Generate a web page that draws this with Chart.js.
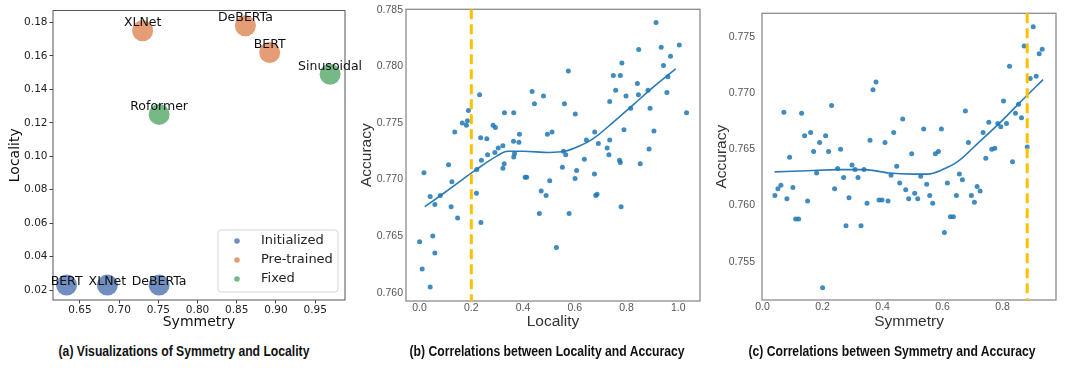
<!DOCTYPE html>
<html>
<head>
<meta charset="utf-8">
<script src="https://cdn.jsdelivr.net/npm/chart.js@4.4.0/dist/chart.umd.min.js"></script>
<style>
  body { margin: 0; background: #fff; width: 1067px; height: 371px; position: relative; overflow: hidden; }
  canvas { position: absolute; top: 0; }
  .cap {
    position: absolute; top: 343px; transform: translateX(-50%) scaleX(0.87);
    font-family: "Liberation Sans Narrow", "Arial Narrow", "Liberation Sans", sans-serif;
    font-weight: bold; font-size: 14px; color: #111; white-space: nowrap;
  }
</style>
</head>
<body>
<canvas id="chartA" width="372" height="335" style="left:0px"></canvas>
<canvas id="chartB" width="360" height="335" style="left:355px"></canvas>
<canvas id="chartC" width="357" height="335" style="left:710px"></canvas>
<div class="cap" style="left:184px">(a) Visualizations of Symmetry and Locality</div>
<div class="cap" style="left:547px">(b) Correlations between Locality and Accuracy</div>
<div class="cap" style="left:892px">(c) Correlations between Symmetry and Accuracy</div>

<script>
// ---- panel (a): symmetry / locality per model ----
const initNames = ['BERT', 'XLNet', 'DeBERTa'];
const initSymmetry = [0.633, 0.685, 0.751];
const initLocality = [0.023, 0.023, 0.023];

const preNames = ['XLNet', 'DeBERTa', 'BERT'];
const preSymmetry = [0.730, 0.861, 0.892];
const preLocality = [0.175, 0.178, 0.162];

const fixedNames = ['Roformer', 'Sinusoidal'];
const fixedSymmetry = [0.751, 0.969];
const fixedLocality = [0.125, 0.149];

const aXTicks = [0.65, 0.70, 0.75, 0.80, 0.85, 0.90, 0.95];
const aYTicks = [0.02, 0.04, 0.06, 0.08, 0.10, 0.12, 0.14, 0.16, 0.18];

// ---- panel (b): locality vs accuracy ----
const bLocality = [0.000,0.017,0.010,0.041,0.041,0.051,0.059,0.059,0.080,0.112,
  0.125,0.122,0.136,0.147,0.165,0.181,0.185,0.189,0.232,0.236,
  0.221,0.220,0.237,0.239,0.260,0.263,0.284,0.293,0.291,0.304,
  0.322,0.322,0.327,0.328,0.363,0.364,0.367,0.364,0.384,0.386,
  0.408,0.414,0.435,0.444,0.470,0.463,0.479,0.489,0.494,0.503,
  0.512,0.529,0.552,0.556,0.565,0.560,0.575,0.578,0.601,0.607,
  0.602,0.637,0.645,0.676,0.677,0.681,0.686,0.691,0.725,0.732,
  0.735,0.735,0.749,0.758,0.773,0.776,0.776,0.782,0.779,0.790,
  0.798,0.816,0.842,0.846,0.847,0.853,0.883,0.887,0.891,0.906,
  0.914,0.934,0.943,0.956,0.960,0.970,1.004,1.032];
const bAccuracy = [0.7645,0.7706,0.7621,0.7605,0.7685,0.7650,0.7635,0.7678,0.7686,0.7713,
  0.7698,0.7676,0.7742,0.7666,0.7750,0.7748,0.7752,0.7761,0.7775,0.7737,
  0.7709,0.7688,0.7662,0.7717,0.7736,0.7722,0.7748,0.7746,0.7724,0.7728,
  0.7730,0.7710,0.7714,0.7759,0.7734,0.7759,0.7723,0.7720,0.7733,0.7740,
  0.7702,0.7702,0.7778,0.7767,0.7690,0.7670,0.7774,0.7686,0.7740,0.7699,
  0.7742,0.7640,0.7711,0.7725,0.7722,0.7767,0.7796,0.7670,0.7701,0.7708,
  0.7758,0.7718,0.7735,0.7705,0.7742,0.7686,0.7687,0.7732,0.7728,0.7722,
  0.7735,0.7769,0.7792,0.7779,0.7717,0.7715,0.7792,0.7803,0.7676,0.7744,
  0.7774,0.7763,0.7785,0.7775,0.7815,0.7714,0.7779,0.7727,0.7763,0.7743,
  0.7839,0.7817,0.7801,0.7777,0.7791,0.7809,0.7819,0.7759];
// smoothed trend
const bTrendX = [0.02, 0.10, 0.22, 0.30, 0.34, 0.40, 0.50, 0.56, 0.62, 0.67, 0.75, 0.83, 0.91, 0.99];
const bTrendY = [0.7676, 0.7689, 0.7709, 0.7721, 0.7725, 0.7725, 0.7724, 0.7725, 0.7730, 0.7736, 0.7751, 0.7767, 0.7783, 0.7798];
const bThreshold = 0.2;
const bXTicks = [0.0, 0.2, 0.4, 0.6, 0.8, 1.0];
const bYTicks = [0.760, 0.765, 0.770, 0.775, 0.780, 0.785];

// ---- panel (c): symmetry vs accuracy ----
const cSymmetry = [0.041,0.051,0.061,0.071,0.081,0.090,0.101,0.110,0.120,0.130,
  0.140,0.150,0.160,0.170,0.180,0.190,0.200,0.210,0.220,0.230,
  0.240,0.250,0.260,0.270,0.278,0.288,0.298,0.308,0.318,0.328,
  0.338,0.348,0.358,0.368,0.378,0.388,0.398,0.408,0.418,0.428,
  0.437,0.447,0.457,0.467,0.477,0.487,0.497,0.507,0.517,0.527,
  0.537,0.547,0.557,0.567,0.576,0.586,0.596,0.606,0.616,0.626,
  0.636,0.646,0.656,0.666,0.676,0.686,0.696,0.706,0.715,0.725,
  0.735,0.744,0.754,0.764,0.774,0.784,0.794,0.803,0.813,0.823,
  0.833,0.843,0.853,0.863,0.872,0.882,0.892,0.902,0.912,0.922,
  0.932];
const cAccuracy = [0.7609,0.7615,0.7618,0.7683,0.7606,0.7643,0.7616,0.7588,0.7588,0.7682,
  0.7662,0.7604,0.7665,0.7648,0.7629,0.7656,0.7527,0.7662,0.7648,0.7689,
  0.7615,0.7633,0.7650,0.7625,0.7582,0.7607,0.7636,0.7632,0.7625,0.7582,
  0.7632,0.7602,0.7658,0.7703,0.7710,0.7605,0.7605,0.7656,0.7604,0.7627,
  0.7665,0.7635,0.7620,0.7677,0.7614,0.7606,0.7646,0.7611,0.7606,0.7626,
  0.7668,0.7619,0.7609,0.7602,0.7646,0.7648,0.7668,0.7576,0.7620,0.7590,
  0.7590,0.7609,0.7628,0.7623,0.7684,0.7656,0.7609,0.7603,0.7617,0.7613,
  0.7665,0.7642,0.7674,0.7650,0.7651,0.7673,0.7670,0.7693,0.7673,0.7724,
  0.7639,0.7682,0.7690,0.7678,0.7742,0.7652,0.7713,0.7759,0.7715,0.7735,
  0.7739];
const cTrendX = [0.04, 0.15, 0.25, 0.34, 0.42, 0.50, 0.55, 0.60, 0.65, 0.72, 0.80, 0.87, 0.935];
const cTrendY = [0.7630, 0.7631, 0.7632, 0.7632, 0.7629, 0.7628, 0.7628, 0.7632, 0.7639, 0.7656, 0.7676, 0.7695, 0.7712];
const cThreshold = 0.882;
const cXTicks = [0.0, 0.2, 0.4, 0.6, 0.8];
const cYTicks = [0.755, 0.760, 0.765, 0.770, 0.775];

// ---- helpers ----
function makePoints(xs, ys) {
  return xs.map((x, i) => ({ x: x, y: ys[i] }));
}

function fixedTicks(values) {
  return function (scale) {
    scale.ticks = values.map(v => ({ value: v }));
  };
}

// box around the plotting area
const framePlugin = {
  id: 'frame',
  beforeDatasetsDraw(chart, args, opts) {
    const { ctx, chartArea: a } = chart;
    ctx.save();
    ctx.strokeStyle = opts.color;
    ctx.lineWidth = opts.width;
    ctx.strokeRect(a.left, a.top, a.right - a.left, a.bottom - a.top);
    ctx.restore();
  }
};

// dashed threshold line
const thresholdPlugin = {
  id: 'threshold',
  afterDatasetsDraw(chart, args, opts) {
    if (opts.value === undefined) return;
    const { ctx, chartArea: a } = chart;
    const x = chart.scales.x.getPixelForValue(opts.value);
    ctx.save();
    ctx.strokeStyle = '#FFC000';
    ctx.lineWidth = 3;
    ctx.setLineDash([10, 5]);
    ctx.beginPath();
    ctx.moveTo(x, a.top);
    ctx.lineTo(x, a.bottom);
    ctx.stroke();
    ctx.restore();
  }
};

// model names above the bubbles + legend box for panel (a)
const namePlugin = {
  id: 'names',
  afterDatasetsDraw(chart) {
    const ctx = chart.ctx;
    ctx.save();
    ctx.font = '12.5px "DejaVu Sans"';
    ctx.fillStyle = '#111';
    ctx.textAlign = 'center';
    ctx.textBaseline = 'alphabetic';
    chart.data.datasets.forEach((ds, di) => {
      const meta = chart.getDatasetMeta(di);
      meta.data.forEach((pt, i) => {
        ctx.fillText(ds.names[i], pt.x, pt.y - ds.lift);
      });
    });

    // legend (lower right)
    const a = chart.chartArea;
    const w = 120, h = 62;
    const left = a.right - 7 - w, top = a.bottom - 8 - h;
    ctx.fillStyle = 'rgba(255,255,255,0.8)';
    ctx.strokeStyle = '#d6d6d6';
    ctx.lineWidth = 1;
    ctx.beginPath();
    ctx.roundRect(left, top, w, h, 3);
    ctx.fill();
    ctx.stroke();
    ctx.font = '13px "DejaVu Sans"';
    ctx.textAlign = 'left';
    ctx.textBaseline = 'middle';
    chart.data.datasets.forEach((ds, di) => {
      const y = top + 11 + di * 19;
      ctx.fillStyle = ds.backgroundColor;
      ctx.beginPath();
      ctx.arc(left + 19, y, 2.8, 0, Math.PI * 2);
      ctx.fill();
      ctx.fillStyle = '#222';
      ctx.fillText(ds.label, left + 43, y);
    });
    ctx.restore();
  }
};

Chart.defaults.devicePixelRatio = 1;
Chart.defaults.animation = false;
Chart.defaults.events = [];
Chart.defaults.plugins.legend.display = false;
Chart.defaults.plugins.tooltip.enabled = false;

// ---- chart (a) ----
const aFont = '"DejaVu Sans"';
new Chart(document.getElementById('chartA'), {
  type: 'scatter',
  data: {
    datasets: [
      { label: 'Initialized', names: initNames, lift: 0,
        data: makePoints(initSymmetry, initLocality),
        backgroundColor: 'rgba(76,114,176,0.8)', pointRadius: 10.5, borderWidth: 0 },
      { label: 'Pre-trained', names: preNames, lift: 5,
        data: makePoints(preSymmetry, preLocality),
        backgroundColor: 'rgba(221,132,82,0.8)', pointRadius: 10.5, borderWidth: 0 },
      { label: 'Fixed', names: fixedNames, lift: 4,
        data: makePoints(fixedSymmetry, fixedLocality),
        backgroundColor: 'rgba(85,168,104,0.8)', pointRadius: 10.5, borderWidth: 0 }
    ]
  },
  options: {
    responsive: false,
    layout: { padding: { top: 8, right: 27, left: 0, bottom: 0 } },
    scales: {
      x: {
        min: 0.6157, max: 0.988,
        afterBuildTicks: fixedTicks(aXTicks),
        afterFit: s => { s.height = 35; },
        grid: { display: true, drawOnChartArea: false, drawTicks: true, tickLength: 3.5, color: '#444' },
        border: { display: false },
        ticks: { autoSkip: false, maxRotation: 0, padding: 1.5, color: '#222',
                 font: { family: aFont, size: 10.5, lineHeight: 1 },
                 callback: v => v.toFixed(2) },
        title: { display: true, text: 'Symmetry', color: '#111',
                 font: { family: aFont, size: 14 }, padding: { top: 0, bottom: 4.6 } }
      },
      y: {
        min: 0.0141, max: 0.1871,
        afterBuildTicks: fixedTicks(aYTicks),
        afterFit: s => { s.width = 53; },
        grid: { display: true, drawOnChartArea: false, drawTicks: true, tickLength: 3.5, color: '#444' },
        border: { display: false },
        ticks: { autoSkip: false, padding: 2, color: '#222',
                 font: { family: aFont, size: 10.5 },
                 callback: v => v.toFixed(2) },
        title: { display: true, text: 'Locality', color: '#111',
                 font: { family: aFont, size: 14 }, padding: { top: 6.6, bottom: 0 } }
      }
    },
    plugins: { frame: { color: '#555', width: 1 } }
  },
  plugins: [framePlugin, namePlugin]
});

// ---- charts (b) and (c) share a look ----
function correlationChart(canvasId, opts) {
  const sans = '"Liberation Sans", Arial, sans-serif';
  return new Chart(document.getElementById(canvasId), {
    type: 'scatter',
    data: {
      datasets: [
        { data: makePoints(opts.xs, opts.ys),
          backgroundColor: 'rgba(31,119,180,0.85)', pointRadius: 2.5, borderWidth: 0 },
        { data: makePoints(opts.trendX, opts.trendY), showLine: true,
          borderColor: '#2a7ab8', borderWidth: 1.6, pointRadius: 0,
          cubicInterpolationMode: 'monotone' }
      ]
    },
    options: {
      responsive: false,
      layout: { padding: { top: 8, right: opts.padRight, left: 0, bottom: 0 } },
      scales: {
        x: {
          min: opts.xMin, max: opts.xMax,
          afterBuildTicks: fixedTicks(opts.xTicks),
          afterFit: s => { s.height = opts.xHeight; },
          grid: { display: false, drawTicks: false },
          border: { display: false },
          ticks: { autoSkip: false, maxRotation: 0, padding: 1.5, color: '#555',
                   font: { family: sans, size: 10.5, lineHeight: 1 },
                   callback: v => v.toFixed(1) },
          title: { display: true, text: opts.xTitle, color: '#333',
                   font: { family: sans, size: 15.5 }, padding: { top: 0, bottom: 4 } }
        },
        y: {
          min: opts.yMin, max: opts.yMax,
          afterBuildTicks: fixedTicks(opts.yTicks),
          afterFit: s => { s.width = opts.yWidth; },
          grid: { display: false, drawTicks: false },
          border: { display: false },
          ticks: { autoSkip: false, padding: opts.yPad, color: '#555',
                   font: { family: sans, size: 10.5 },
                   callback: v => v.toFixed(3) },
          title: { display: true, text: 'Accuracy', color: '#333',
                   font: { family: sans, size: 15.5 }, padding: { top: 2.4, bottom: 0 } }
        }
      },
      plugins: {
        frame: { color: '#8c8c8c', width: 1.3 },
        threshold: { value: opts.threshold }
      }
    },
    plugins: [framePlugin, thresholdPlugin]
  });
}

correlationChart('chartB', {
  xs: bLocality, ys: bAccuracy, trendX: bTrendX, trendY: bTrendY,
  threshold: bThreshold, xTicks: bXTicks, yTicks: bYTicks,
  xMin: -0.0525, xMax: 1.084, yMin: 0.75926, yMax: 0.78506,
  xTitle: 'Locality', padRight: 15, xHeight: 34, yWidth: 51, yPad: 3
});

correlationChart('chartC', {
  xs: cSymmetry, ys: cAccuracy, trendX: cTrendX, trendY: cTrendY,
  threshold: cThreshold, xTicks: cXTicks, yTicks: cYTicks,
  xMin: -0.002, xMax: 0.978, yMin: 0.7516, yMax: 0.7771,
  xTitle: 'Symmetry', padRight: 11, xHeight: 35, yWidth: 52, yPad: 7
});
</script>
</body>
</html>
